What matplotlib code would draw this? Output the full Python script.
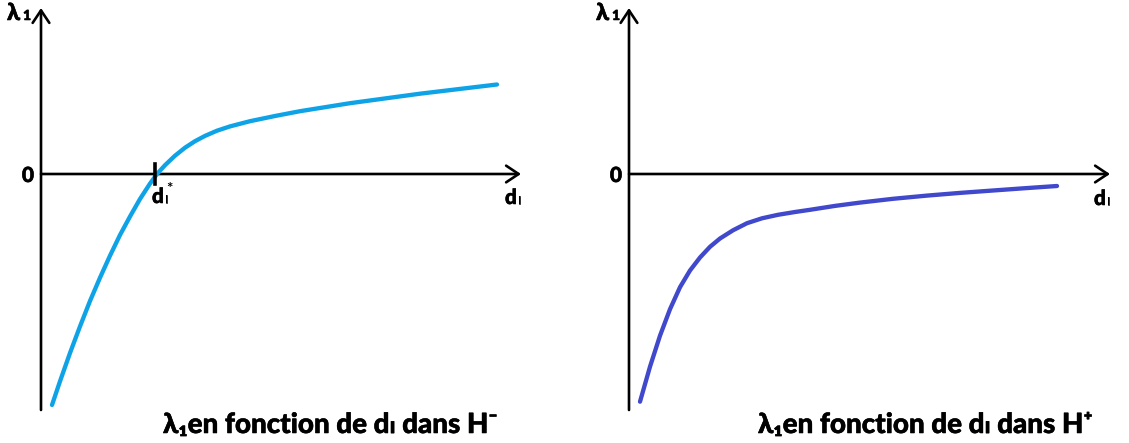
import matplotlib
matplotlib.use("Agg")
import matplotlib.pyplot as plt
import matplotlib.patheffects as pe

W, H = 1129, 443
FONT = ["Lato", "DejaVu Sans"]

# lambda_1 as a function of d_l in H- (crosses zero at d*)
d_minus = [0.11, 0.19, 0.29, 0.39, 0.49, 0.59, 0.69, 0.79, 0.89, 0.99, 1.09,
           1.16, 1.24, 1.34, 1.44, 1.54, 1.64, 1.76, 1.89, 2.09, 2.34, 2.59,
           3.09, 3.79, 4.56]
lam_minus = [-2.31, -2.073, -1.79, -1.524, -1.27, -1.037, -0.817, -0.61,
             -0.425, -0.25, -0.096, 0.0, 0.088, 0.183, 0.263, 0.328, 0.381,
             0.433, 0.476, 0.528, 0.58, 0.628, 0.708, 0.803, 0.895]
d_star = 1.14

# lambda_1 as a function of d_l in H+ (stays negative)
d_plus = [0.11, 0.21, 0.31, 0.41, 0.51, 0.61, 0.71, 0.81, 0.91, 1.04, 1.18,
          1.33, 1.49, 1.66, 1.81, 2.06, 2.31, 2.64, 2.98, 3.31, 3.64, 3.96,
          4.28]
lam_plus = [-2.277, -1.927, -1.617, -1.352, -1.132, -0.965, -0.835, -0.728,
            -0.645, -0.563, -0.492, -0.443, -0.408, -0.38, -0.358, -0.319,
            -0.286, -0.248, -0.216, -0.189, -0.165, -0.142, -0.12]

titles = ["λ₁en fonction de dₗ dans H⁻", "λ₁en fonction de dₗ dans H⁺"]

fig = plt.figure(figsize=(W / 100, H / 100), dpi=100)
fig.patch.set_facecolor("white")


def fx(x):
    return x / W


def fy(y):
    return 1 - y / H


def make_panel(ox, oy, x_end, y_top, y_bot):
    # axes whose data units are 100 px, origin at the crossing of the arrows
    ax = fig.add_axes([fx(ox), fy(y_bot), (x_end - ox) / W, (y_bot - y_top) / H])
    xmax = (x_end - ox) / 100
    ymin = -(y_bot - oy) / 100
    ymax = (oy - y_top) / 100
    ax.set_xlim(0, xmax)
    ax.set_ylim(ymin, ymax)
    ax.axis("off")
    arrow = dict(arrowstyle="->,head_length=0.45,head_width=0.3",
                 lw=1.9, color="black", mutation_scale=20,
                 shrinkA=0, shrinkB=0)
    ax.annotate("", xy=(0, ymax), xytext=(0, ymin), arrowprops=arrow,
                annotation_clip=False)
    ax.annotate("", xy=(xmax, 0), xytext=(0, 0), arrowprops=arrow,
                annotation_clip=False)
    return ax


axL = make_panel(41, 174, 521, 8, 410)
axL.plot(d_minus, lam_minus, color="#0ea3e6", lw=3.1, solid_capstyle="round",
         solid_joinstyle="round", clip_on=False, zorder=3)
axL.plot([d_star, d_star], [-0.1, 0.1], color="black", lw=2.6, clip_on=False,
         zorder=4)

axR = make_panel(629, 174, 1110, 8, 410)
axR.plot(d_plus, lam_plus, color="#4048cc", lw=3.1, solid_capstyle="round",
         solid_joinstyle="round", clip_on=False, zorder=3)

heavy = [pe.withStroke(linewidth=0.4, foreground="black")]
bold = dict(family=FONT, fontweight="black", color="black", path_effects=heavy)


def sym_lambda(x, y):
    fig.text(fx(x), fy(y), "λ", fontsize=17, va="baseline", ha="left", **bold)
    fig.text(fx(x + 16), fy(y), "1", fontsize=10, va="baseline", ha="left", **bold)


def sym_d(x, y, star=False):
    fig.text(fx(x), fy(y), "d", fontsize=15, va="baseline", ha="left", **bold)
    fig.text(fx(x + 13), fy(y), "l", fontsize=8, va="baseline", ha="left", **bold)
    if star:
        fig.text(fx(x + 14), fy(y - 10), "*", fontsize=11, va="baseline",
                 ha="left", family=FONT, fontweight="bold", color="black")


sym_lambda(7, 20)
sym_lambda(596, 20)
fig.text(fx(28), fy(182), "0", fontsize=15, va="baseline", ha="center", **bold)
fig.text(fx(616), fy(182), "0", fontsize=15, va="baseline", ha="center", **bold)
sym_d(152, 203, star=True)
sym_d(505, 204)
sym_d(1094, 205)

fig.text(fx(163), fy(433), titles[0], fontsize=20, va="baseline", ha="left", **bold)
fig.text(fx(758), fy(433), titles[1], fontsize=20, va="baseline", ha="left", **bold)

fig.savefig("out.png", dpi=100, facecolor="white")
